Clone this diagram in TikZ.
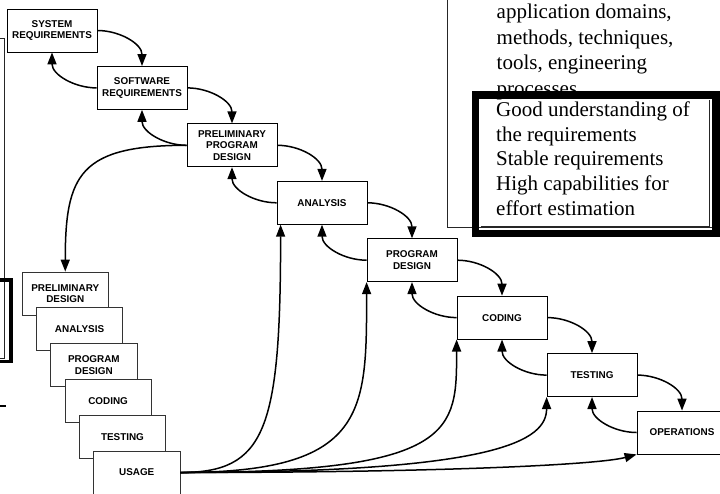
\documentclass[tikz,border=0pt]{standalone}
\usepackage{fontspec}
\setmainfont{Liberation Serif}
\newfontfamily\labelsans{Liberation Sans}
\usetikzlibrary{arrows.meta}

\begin{document}
\begin{tikzpicture}[x=1pt,y=1pt,
  phase/.style={draw=black, line width=0.8pt, fill=white,
    minimum width=90pt, minimum height=43pt, inner sep=0pt, align=center,
    font=\labelsans\bfseries\fontsize{9.9}{11.5}\selectfont},
  stage/.style={phase, draw=black!80, minimum width=86.5pt},
  flow/.style={line width=1.5pt, -{Triangle[length=12pt,width=9pt]}},
  note/.style={inner sep=0pt, align=left, anchor=north west,
    font=\fontsize{21}{24.6}\selectfont},
  hairframe/.style={draw=black!85, line width=0.8pt},
]
\clip (0,0) rectangle (720,-493);

% frames along the left margin
\draw[hairframe] (-10,-38) rectangle (4,-358);
\draw[line width=3.5pt] (-10,-280) rectangle (11,-361.5);
\draw[line width=2.5pt] (0,-406) -- (6,-406);

% notes panel at the top right
\draw[hairframe] (447,-227) rectangle (740,10);
\node[note, font=\fontsize{21}{25.6}\selectfont] (scope) at (496.5,-4)
  {application domains,\\methods, techniques,\\tools, engineering\\processes};
\draw[line width=7.5pt] (475.5,-95) rectangle (716,-233.3);
\draw[hairframe] (480.5,-226.8) -- (709.5,-226.8) -- (709.5,-100);
\node[note] (needs) at (496,-101.8)
  {Good understanding of\\the requirements\\Stable requirements\\High capabilities for\\effort estimation};

% waterfall phases
\node[phase] (sys)  at (52,-30.5)   {SYSTEM\\REQUIREMENTS};
\node[phase] (soft) at (142,-87.9)  {SOFTWARE\\REQUIREMENTS};
\node[phase] (ppd)  at (232,-145.3) {PRELIMINARY\\PROGRAM\\DESIGN};
\node[phase] (ana)  at (322,-202.8) {ANALYSIS};
\node[phase] (pd)   at (412,-260.2) {PROGRAM\\DESIGN};
\node[phase] (cod)  at (502,-317.6) {CODING};
\node[phase] (tst)  at (592,-375.1) {TESTING};
\node[phase] (ops)  at (682,-432.5) {OPERATIONS};

% stacked pilot stages
\node[stage] (s1) at (65.25,-293.5)  {PRELIMINARY\\DESIGN};
\node[stage] (s2) at (79.55,-329.3)  {ANALYSIS};
\node[stage] (s3) at (93.85,-365.1)  {PROGRAM\\DESIGN};
\node[stage] (s4) at (108.15,-400.9) {CODING};
\node[stage] (s5) at (122.45,-436.7) {TESTING};
\node[stage] (s6) at (136.75,-472.5) {USAGE};

% forward steps and feedback loops
\foreach \a/\b in {sys/soft, soft/ppd, ppd/ana, ana/pd, pd/cod, cod/tst, tst/ops} {
  \draw[flow] (\a.east) to[out=0,in=90] (\b.north);
  \draw[flow] (\b.west) to[out=180,in=-90] (\a.south);
}

% preliminary program design feeds the pilot
\draw[flow] (ppd.west) .. controls +(-107,0) and +(0,97) .. (s1.north);

% usage feeds back into the later phases
\draw[flow] (s6.east) .. controls +(85,0) and +(0,-206) .. ([xshift=4pt]ana.south west);
\draw[flow] (s6.east) .. controls +(187,0) and +(0,-130) .. (pd.south west);
\draw[flow] (s6.east) .. controls +(277,0) and +(0,-91) .. (cod.south west);
\draw[flow] (s6.east) .. controls +(320,0) and +(0,-43) .. (tst.south west);
\draw[flow] (s6.east) .. controls +(270,0) and +(-37,-10) .. (ops.south west);
\end{tikzpicture}
\end{document}
